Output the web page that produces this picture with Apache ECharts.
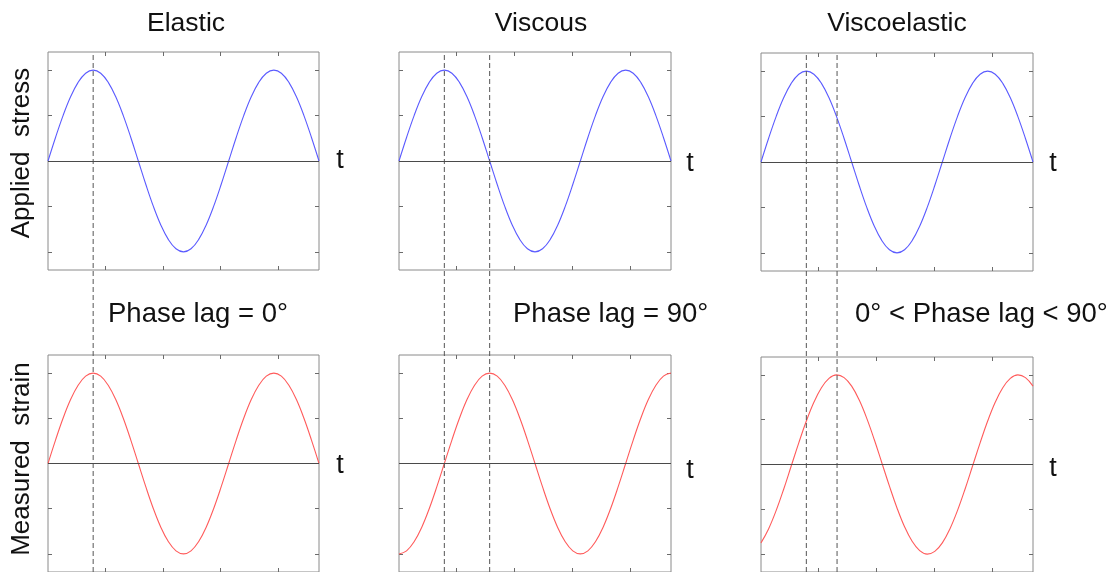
<!DOCTYPE html>
<html>
<head>
<meta charset="utf-8">
<script src="https://cdn.jsdelivr.net/npm/echarts@6/dist/echarts.min.js"></script>
<style>
  html, body { margin: 0; padding: 0; background: #ffffff; }
  #chart { width: 1109px; height: 572px; }
</style>
</head>
<body>
<div id="chart"></div>
<script>
// Panel headings and annotations
const columnTitles = ['Elastic', 'Viscous', 'Viscoelastic'];
const rowTitles = ['Applied  stress', 'Measured  strain'];
const phaseLagLabels = ['Phase lag = 0°', 'Phase lag = 90°', '0° < Phase lag < 90°'];
const timeLabel = 't';

// Sample phase (degrees) along the time axis, 1.5 cycles
const phaseDeg = [0, 15, 30, 45, 60, 75, 90, 105, 120, 135, 150, 165, 180,
  195, 210, 225, 240, 255, 270, 285, 300, 315, 330, 345, 360,
  375, 390, 405, 420, 435, 450, 465, 480, 495, 510, 525, 540];

// Applied stress (same drive in all three columns)
const appliedStress = [0, 0.259, 0.5, 0.707, 0.866, 0.966, 1, 0.966, 0.866, 0.707, 0.5, 0.259, 0,
  -0.259, -0.5, -0.707, -0.866, -0.966, -1, -0.966, -0.866, -0.707, -0.5, -0.259, 0,
  0.259, 0.5, 0.707, 0.866, 0.966, 1, 0.966, 0.866, 0.707, 0.5, 0.259, 0];

// Measured strain responses
const strainElastic = [0, 0.259, 0.5, 0.707, 0.866, 0.966, 1, 0.966, 0.866, 0.707, 0.5, 0.259, 0,
  -0.259, -0.5, -0.707, -0.866, -0.966, -1, -0.966, -0.866, -0.707, -0.5, -0.259, 0,
  0.259, 0.5, 0.707, 0.866, 0.966, 1, 0.966, 0.866, 0.707, 0.5, 0.259, 0];
const strainViscous = [-1, -0.966, -0.866, -0.707, -0.5, -0.259, 0, 0.259, 0.5, 0.707, 0.866, 0.966, 1,
  0.966, 0.866, 0.707, 0.5, 0.259, 0, -0.259, -0.5, -0.707, -0.866, -0.966, -1,
  -0.966, -0.866, -0.707, -0.5, -0.259, 0, 0.259, 0.5, 0.707, 0.866, 0.966, 1];
const strainViscoelastic = [-0.875, -0.719, -0.515, -0.276, -0.017, 0.242, 0.485, 0.695, 0.857, 0.961, 1.0, 0.970, 0.875,
  0.719, 0.515, 0.276, 0.017, -0.242, -0.485, -0.695, -0.857, -0.961, -1.0, -0.970, -0.875,
  -0.719, -0.515, -0.276, -0.017, 0.242, 0.485, 0.695, 0.857, 0.961, 1.0, 0.970, 0.875];

// Peak markers (degrees): stress peak and strain peak per column
const stressPeakDeg = [90, 90, 90];
const strainPeakDeg = [90, 180, 151];

// Tick positions (time axis in radians, signal axis in amplitude units)
const xTicks = [2, 4, 6, 8];
const yTicks = [-1, -0.5, 0.5, 1];

const toRad = d => d * Math.PI / 180;
const tMax = toRad(540);

// Layout of the 2 x 3 panel grid
const colLeft = [48, 399, 761];
const colWidth = [271, 272, 272];
const rowTop = [[52, 52, 53], [355, 355, 357]];
const panelHeight = 218;
const overlayBottom = 573;

const rowData = [
  [appliedStress, appliedStress, appliedStress],
  [strainElastic, strainViscous, strainViscoelastic]
];
const rowColor = ['#5b5bff', '#ff5b5b'];

const FONT = '"Liberation Sans", Arial, Helvetica, sans-serif';
const tickStyle = { color: '#6b6b6b', width: 1 };

const grid = [], xAxis = [], yAxis = [], series = [];

function makeX(gi, pos) {
  return {
    type: 'value', gridIndex: gi, position: pos, min: 0, max: tMax,
    axisLine: { show: false, onZero: false }, axisLabel: { show: false }, splitLine: { show: false },
    axisTick: { show: true, inside: true, length: 4, customValues: xTicks, lineStyle: tickStyle }
  };
}
function makeY(gi, pos) {
  return {
    type: 'value', gridIndex: gi, position: pos, min: -1.2, max: 1.2,
    axisLine: { show: false, onZero: false }, axisLabel: { show: false }, splitLine: { show: false },
    axisTick: { show: true, inside: true, length: 4, customValues: yTicks, lineStyle: tickStyle }
  };
}

// Six framed signal panels
for (let r = 0; r < 2; r++) {
  for (let c = 0; c < 3; c++) {
    const gi = grid.length;
    grid.push({
      left: colLeft[c], top: rowTop[r][c], width: colWidth[c], height: panelHeight,
      show: true, borderColor: '#8a8a8a', borderWidth: 1, backgroundColor: 'transparent'
    });
    xAxis.push(makeX(gi, 'bottom'));
    const xi = xAxis.length - 1;
    xAxis.push(makeX(gi, 'top'));
    yAxis.push(makeY(gi, 'left'));
    const yi = yAxis.length - 1;
    yAxis.push(makeY(gi, 'right'));

    series.push({
      type: 'line', xAxisIndex: xi, yAxisIndex: yi,
      data: phaseDeg.map((d, k) => [toRad(d), rowData[r][c][k]]),
      showSymbol: false, smooth: 0.4, silent: true,
      lineStyle: { color: rowColor[r], width: 1.1 },
      markLine: {
        silent: true, symbol: ['none', 'none'], label: { show: false },
        lineStyle: { color: '#4a4a4a', type: 'solid', width: 1 },
        data: [{ yAxis: 0 }]
      }
    });
  }
}

// Full-height overlays per column for the dashed peak markers
for (let c = 0; c < 3; c++) {
  const gi = grid.length;
  grid.push({ left: colLeft[c], top: rowTop[0][c], width: colWidth[c], height: overlayBottom - rowTop[0][c], show: false });
  xAxis.push({ type: 'value', gridIndex: gi, min: 0, max: tMax, show: false });
  const xi = xAxis.length - 1;
  yAxis.push({ type: 'value', gridIndex: gi, min: 0, max: 1, show: false });
  const yi = yAxis.length - 1;
  const marks = stressPeakDeg[c] === strainPeakDeg[c] ? [stressPeakDeg[c]] : [stressPeakDeg[c], strainPeakDeg[c]];
  marks.forEach(d => {
    series.push({
      type: 'line', xAxisIndex: xi, yAxisIndex: yi, silent: true, showSymbol: false,
      data: [[toRad(d), 0], [toRad(d), 1]],
      lineStyle: { color: '#555555', width: 1, type: [5, 3] }
    });
  });
}

// Text annotations
const graphic = [];
const titleX = [186, 541, 897];
columnTitles.forEach((t, c) => graphic.push({
  type: 'text', x: titleX[c], y: 24,
  style: { text: t, font: '26.5px ' + FONT, fill: '#111', align: 'center', verticalAlign: 'middle' }
}));
const rowLabelY = [153, 459];
rowTitles.forEach((t, r) => graphic.push({
  type: 'text', x: 22, y: rowLabelY[r], rotation: Math.PI / 2,
  style: { text: t, font: '26px ' + FONT, fill: '#111', align: 'center', verticalAlign: 'middle' }
}));
const tX = [340, 690, 1053];
const tY = [[161, 164, 164], [466, 471, 469]];
for (let r = 0; r < 2; r++) for (let c = 0; c < 3; c++) graphic.push({
  type: 'text', x: tX[c], y: tY[r][c],
  style: { text: timeLabel, font: '27px ' + FONT, fill: '#111', align: 'center', verticalAlign: 'middle' }
});
const lagX = [108, 513, 855];
phaseLagLabels.forEach((t, c) => graphic.push({
  type: 'text', x: lagX[c], y: 314,
  style: { text: t, font: '27.5px ' + FONT, fill: '#111', align: 'left', verticalAlign: 'middle' }
}));

const chart = echarts.init(document.getElementById('chart'), null, { renderer: 'canvas' });
chart.setOption({
  animation: false,
  backgroundColor: '#ffffff',
  grid, xAxis, yAxis, series, graphic
});
</script>
</body>
</html>
